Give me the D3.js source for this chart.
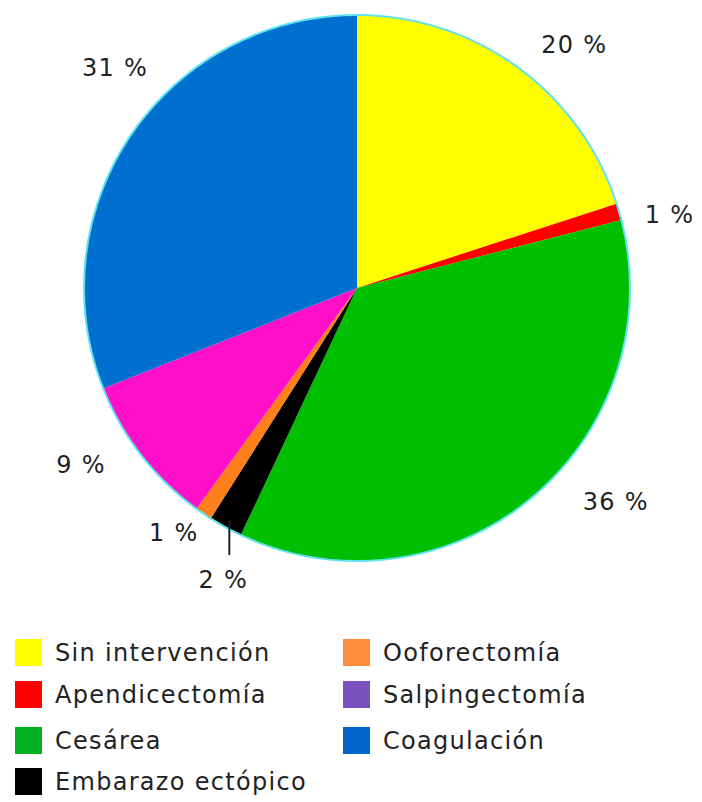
<!DOCTYPE html>
<html>
<head>
<meta charset="utf-8">
<script src="https://cdn.jsdelivr.net/npm/d3@7"></script>
<style>
  body { margin: 0; background: #fff; }
  text { font-family: "DejaVu Sans", Verdana, sans-serif; fill: #222; letter-spacing: 1.3px; }
</style>
</head>
<body>
<svg id="chart" width="702" height="802"></svg>
<script>
// data
const categories = ["Sin intervención", "Apendicectomía", "Cesárea", "Embarazo ectópico",
                    "Ooforectomía", "Salpingectomía", "Coagulación"];
const values = [20, 1, 36, 2, 1, 9, 31];
const sliceColors = ["#ffff00", "#ff0000", "#00bf00", "#000000", "#ff7f1a", "#ff10c8", "#0070d0"];
const legendColors = ["#ffff00", "#ff0000", "#00b020", "#000000", "#ff8c3a", "#7a52c0", "#0066cc"];

const WIDTH = 702, HEIGHT = 802;
const cx = 357, cy = 288, R = 273;

// label layout: angle shift (deg) from slice middle, and distance from centre
const labelLayout = [[5.8, 326], [3.1, 321], [-10.8, 336], [-4.2, 321],
                     [2.6, 306], [5.1, 328], [8.1, 327]];

const svg = d3.select("#chart");
const g = svg.append("g").attr("transform", "translate(" + cx + "," + cy + ")");

const pie = d3.pie().sort(null).value(d => d);
const arcs = pie(values);
const arc = d3.arc().innerRadius(0).outerRadius(R);

g.selectAll("path.slice")
    .data(arcs)
    .enter()
    .append("path")
        .attr("class", "slice")
        .attr("d", arc)
        .attr("fill", (d, i) => sliceColors[i]);

// light cyan rim
g.append("circle")
    .attr("r", R)
    .attr("fill", "none")
    .attr("stroke", "#5fe3ef")
    .attr("stroke-width", 2);

function midAngle(d) { return (d.startAngle + d.endAngle) / 2; }

function labelPos(d, i) {
    let a = midAngle(d) + labelLayout[i][0] * Math.PI / 180;
    let r = labelLayout[i][1];
    return [Math.sin(a) * r, -Math.cos(a) * r];
}

g.selectAll("text.pct")
    .data(arcs)
    .enter()
    .append("text")
        .attr("class", "pct")
        .attr("x", (d, i) => labelPos(d, i)[0])
        .attr("y", (d, i) => labelPos(d, i)[1])
        .attr("text-anchor", "middle")
        .attr("dominant-baseline", "central")
        .attr("font-size", 24)
        .text(d => d.data + " %");

// leader line for the 2 % slice
let black = arcs[3];
let la = midAngle(black);
g.append("line")
    .attr("x1", Math.sin(la) * (R - 8))
    .attr("y1", -Math.cos(la) * (R - 8))
    .attr("x2", Math.sin(la) * (R - 8))
    .attr("y2", 267)
    .attr("stroke", "#222")
    .attr("stroke-width", 2);

// legend, two columns
const rowY = [652, 694, 740, 781];
const colX = [15, 343];
const legend = svg.append("g");
categories.forEach((name, i) => {
    let col = i < 4 ? 0 : 1;
    let row = i < 4 ? i : i - 4;
    let item = legend.append("g")
        .attr("transform", "translate(" + colX[col] + "," + rowY[row] + ")");
    item.append("rect")
        .attr("x", 0)
        .attr("y", -13)
        .attr("width", 27)
        .attr("height", 27)
        .attr("fill", legendColors[i]);
    item.append("text")
        .attr("x", 40)
        .attr("y", 1)
        .attr("dominant-baseline", "central")
        .attr("font-size", 24)
        .text(name);
});
</script>
</body>
</html>
